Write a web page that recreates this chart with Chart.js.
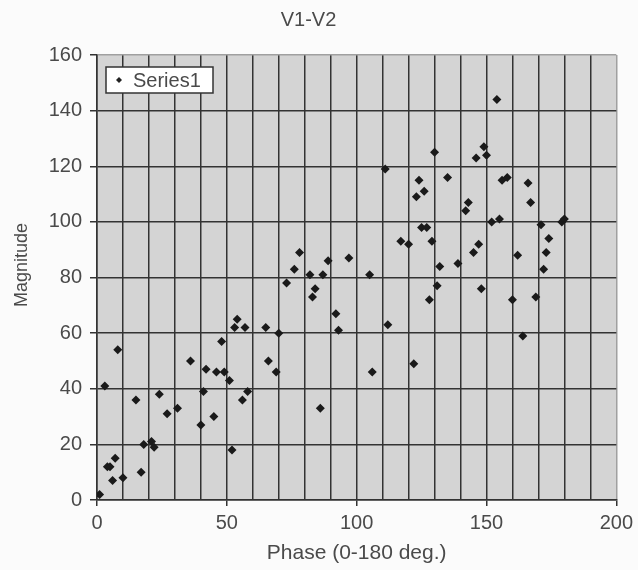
<!DOCTYPE html>
<html>
<head>
<meta charset="utf-8">
<script src="https://cdn.jsdelivr.net/npm/chart.js@4"></script>
<style>
body { margin: 0; background: #fbfbfb; }
</style>
</head>
<body>
<canvas id="chart" width="638" height="570"></canvas>
<script>
// Data
const phase = [1, 4, 5, 7, 6, 10, 3, 8, 15, 17, 18, 21, 22, 24, 27, 31, 36, 40, 41, 42,
  45, 46, 49, 48, 51, 52, 53, 54, 56, 57, 58, 65, 66, 69, 70, 73, 76, 78, 82, 83,
  84, 86, 87, 89, 92, 93, 97, 105, 106, 111, 112, 117, 120, 122, 123, 124, 125, 126, 127, 128,
  129, 130, 131, 132, 135, 139, 142, 143, 145, 146, 147, 148, 149, 150, 152, 154, 155, 156, 158, 160,
  162, 164, 166, 167, 169, 171, 172, 173, 174, 179, 180];
const magnitude = [2, 12, 12, 15, 7, 8, 41, 54, 36, 10, 20, 21, 19, 38, 31, 33, 50, 27, 39, 47,
  30, 46, 46, 57, 43, 18, 62, 65, 36, 62, 39, 62, 50, 46, 60, 78, 83, 89, 81, 73,
  76, 33, 81, 86, 67, 61, 87, 81, 46, 119, 63, 93, 92, 49, 109, 115, 98, 111, 98, 72,
  93, 125, 77, 84, 116, 85, 104, 107, 89, 123, 92, 76, 127, 124, 100, 144, 101, 115, 116, 72,
  88, 59, 114, 107, 73, 99, 83, 89, 94, 100, 101];
const xTickLabels = [0, 50, 100, 150, 200];
const yTickLabels = [0, 20, 40, 60, 80, 100, 120, 140, 160];
const seriesName = 'Series1';
const yTitle = 'Magnitude';

let points = phase.map((p, i) => ({x: p, y: magnitude[i]}));

const textColor = '#4a4a4a';
const gridColor = '#333333';
const fontFamily = '"Liberation Sans", Arial, sans-serif';

// grey plot area
const plotBackground = {
  id: 'plotBackground',
  beforeDraw(chart){
    let a = chart.chartArea;
    let c = chart.ctx;
    c.save();
    c.fillStyle = '#d4d4d4';
    c.fillRect(a.left, a.top, a.right - a.left, a.bottom - a.top);
    c.restore();
  }
};

// legend box inside the plot, top left, and the y title
const insideLegend = {
  id: 'insideLegend',
  afterDraw(chart){
    let c = chart.ctx;
    let a = chart.chartArea;
    let x = a.left + 9, y = a.top + 12, w = 107, h = 26;
    c.save();
    c.fillStyle = '#ffffff';
    c.fillRect(x, y, w, h);
    c.strokeStyle = '#333';
    c.lineWidth = 1.5;
    c.strokeRect(x, y, w, h);
    c.fillStyle = '#222';
    c.beginPath();
    c.moveTo(x + 13, y + 10);
    c.lineTo(x + 16, y + 13);
    c.lineTo(x + 13, y + 16);
    c.lineTo(x + 10, y + 13);
    c.closePath();
    c.fill();
    c.font = '20px ' + fontFamily;
    c.fillStyle = textColor;
    c.textBaseline = 'middle';
    c.fillText(chart.data.datasets[0].label, x + 27, y + h / 2 + 1);

    // y axis title, sitting a little above the middle like the original
    c.translate(22, 265);
    c.rotate(-Math.PI / 2);
    c.textAlign = 'center';
    c.font = '18px ' + fontFamily;
    c.fillText(yTitle, 0, 0);
    c.restore();
  }
};

const ctx = document.getElementById('chart');

new Chart(ctx, {
  type: 'scatter',
  data: {
    datasets: [{
      label: seriesName,
      data: points,
      pointStyle: 'rectRot',
      pointRadius: 4.5,
      backgroundColor: '#1a1a1a',
      borderColor: '#1a1a1a',
      borderWidth: 0
    }]
  },
  options: {
    responsive: false,
    animation: false,
    layout: { padding: { top: 0, right: 21, bottom: 0, left: 0 } },
    font: { family: fontFamily },
    plugins: {
      legend: { display: false },
      tooltip: { enabled: false },
      title: {
        display: true,
        text: 'V1-V2',
        color: textColor,
        font: { size: 20, weight: 'normal' },
        padding: { top: 8, bottom: 23 }
      }
    },
    scales: {
      x: {
        type: 'linear',
        min: 0,
        max: 200,
        afterFit(scale){ scale.height = 70; },
        ticks: {
          stepSize: 10,
          autoSkip: false,
          maxRotation: 0,
          padding: 5,
          color: textColor,
          font: { size: 20 },
          callback: v => xTickLabels.includes(v) ? v : ''
        },
        grid: {
          color: c => c.tick && c.tick.value === 200 ? '#a0a0a0' : gridColor,
          lineWidth: 1.5,
          tickLength: 6,
          tickColor: c => c.tick && xTickLabels.includes(c.tick.value) ? gridColor : 'rgba(0,0,0,0)'
        },
        border: { color: gridColor, width: 1.5 },
        title: {
          display: true,
          text: 'Phase (0-180 deg.)',
          color: textColor,
          font: { size: 21 },
          padding: { top: 0, bottom: 4 }
        }
      },
      y: {
        min: 0,
        max: 160,
        afterFit(scale){ scale.width = 97; },
        ticks: {
          stepSize: 20,
          padding: 8,
          color: textColor,
          font: { size: 20 },
          callback: v => yTickLabels.includes(v) ? v : ''
        },
        grid: {
          color: c => c.tick && c.tick.value === 160 ? '#a0a0a0' : gridColor,
          lineWidth: 1.5,
          tickLength: 7,
          tickColor: gridColor
        },
        border: { color: gridColor, width: 1.5 }
      }
    }
  },
  plugins: [plotBackground, insideLegend]
});
</script>
</body>
</html>
